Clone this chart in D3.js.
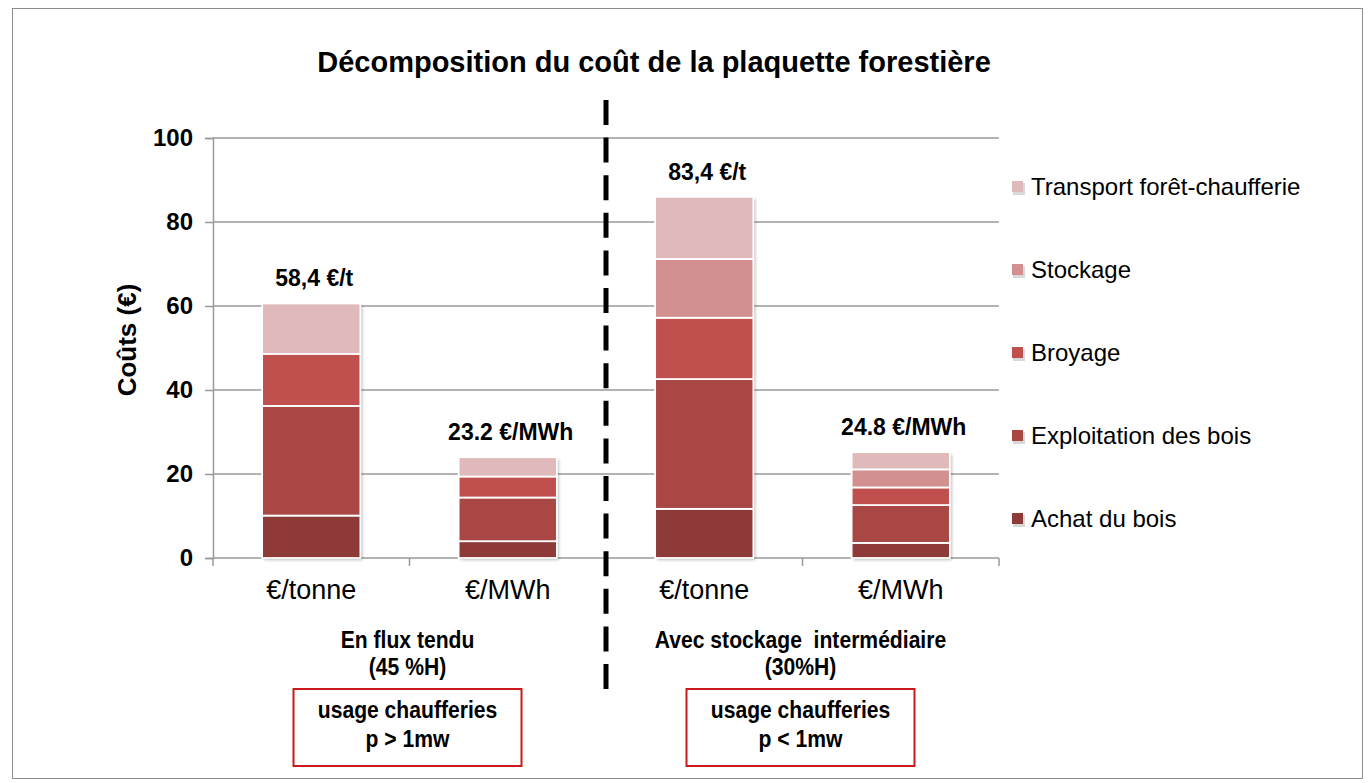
<!DOCTYPE html>
<html>
<head>
<meta charset="utf-8">
<script src="https://cdn.jsdelivr.net/npm/d3@7"></script>
<style>
  body { margin: 0; background: #fff; }
  text { font-family: "Liberation Sans", Arial, sans-serif; }
</style>
</head>
<body>
<div class="chart"></div>
<script>
// data
var categories = ["€/tonne", "€/MWh", "€/tonne2", "€/MWh2"];
var categoryLabels = ["€/tonne", "€/MWh", "€/tonne", "€/MWh"];
var seriesNames = ["Achat du bois", "Exploitation des bois", "Broyage", "Stockage", "Transport forêt-chaufferie"];
var achat = [10.1, 4.0, 11.7, 3.6];
var exploitation = [26.1, 10.4, 30.9, 9.0];
var broyage = [12.4, 5.0, 14.6, 4.2];
var stockage = [0, 0, 14.0, 4.3];
var transport = [12.0, 4.6, 14.8, 4.1];
var totalLabels = ["58,4 €/t", "23.2 €/MWh", "83,4 €/t", "24.8 €/MWh"];
var yTicks = [0, 20, 40, 60, 80, 100];
var groups = [
  { lines: ["En flux tendu", "(45 %H)"], box: ["usage chaufferies", "p > 1mw"] },
  { lines: ["Avec stockage  intermédiaire", "(30%H)"], box: ["usage chaufferies", "p < 1mw"] }
];

var colors = ["#8e3a39", "#a94745", "#c0504e", "#d29190", "#e0baba"];

var svgWidth = 1370, svgHeight = 783;
var margin = { top: 138, left: 213 };
var width = 786, height = 420;

var svg = d3.select(".chart").append("svg")
  .attr("width", svgWidth)
  .attr("height", svgHeight);

var defs = svg.append("defs");
var shadow = defs.append("filter").attr("id", "shadow")
  .attr("x", "-10%").attr("y", "-10%").attr("width", "130%").attr("height", "130%");
shadow.append("feDropShadow").attr("dx", 2).attr("dy", 2).attr("stdDeviation", 1.5)
  .attr("flood-color", "#000").attr("flood-opacity", 0.25);

// outer frame
svg.append("rect")
  .attr("x", 12.5).attr("y", 8.5)
  .attr("width", 1350).attr("height", 770)
  .attr("fill", "none").attr("stroke", "#8c8c8c").attr("stroke-width", 1);

// title
svg.append("text")
  .attr("x", 654).attr("y", 72)
  .attr("text-anchor", "middle")
  .attr("font-size", 29).attr("font-weight", "bold")
  .text("Décomposition du coût de la plaquette forestière");

var chart = svg.append("g")
  .attr("transform", "translate(" + margin.left + "," + margin.top + ")");

var x = d3.scaleBand().domain(categories).range([0, width])
  .paddingInner(0.5).paddingOuter(0.25);
var y = d3.scaleLinear().domain([0, 100]).range([height, 0]);

// gridlines
chart.selectAll(".grid").data(yTicks).enter().append("line")
  .attr("x1", 0).attr("x2", width)
  .attr("y1", function(d) { return y(d); })
  .attr("y2", function(d) { return y(d); })
  .attr("stroke", "#9a9a9a").attr("stroke-width", 1.5);

// y axis
var leftAxis = d3.axisLeft(y).tickValues(yTicks).tickSize(8).tickPadding(12);
var yAxisG = chart.append("g").call(leftAxis);
yAxisG.select(".domain").attr("stroke", "#9a9a9a").attr("stroke-width", 1.5);
yAxisG.selectAll(".tick line").attr("stroke", "#9a9a9a").attr("stroke-width", 1.5);
yAxisG.selectAll(".tick text")
  .attr("font-family", "Liberation Sans, Arial, sans-serif")
  .attr("font-size", 24).attr("font-weight", "bold").attr("fill", "#000");

// x axis ticks between categories
var step = x.step();
var boundaries = d3.range(0, 5).map(function(i) { return i * step; });
chart.selectAll(".xtick").data(boundaries).enter().append("line")
  .attr("x1", function(d) { return d; }).attr("x2", function(d) { return d; })
  .attr("y1", height).attr("y2", height + 8)
  .attr("stroke", "#9a9a9a").attr("stroke-width", 1.5);

chart.selectAll(".xlabel").data(categories).enter().append("text")
  .attr("x", function(d) { return x(d) + x.bandwidth() / 2; })
  .attr("y", height + 41)
  .attr("text-anchor", "middle")
  .attr("font-size", 27)
  .text(function(d, i) { return categoryLabels[i]; });

// y axis title
svg.append("text")
  .attr("transform", "translate(136,340) rotate(-90)")
  .attr("text-anchor", "middle")
  .attr("font-size", 26).attr("font-weight", "bold")
  .text("Coûts (€)");

// stacked bars
var table = categories.map(function(c, i) {
  return { cat: c, s0: achat[i], s1: exploitation[i], s2: broyage[i], s3: stockage[i], s4: transport[i] };
});
var stack = d3.stack().keys(["s0", "s1", "s2", "s3", "s4"]);
var layers = stack(table);

chart.selectAll(".shadowbar").data(table).enter().append("rect")
  .attr("x", function(d) { return x(d.cat); })
  .attr("width", x.bandwidth())
  .attr("y", function(d) { return y(d.s0 + d.s1 + d.s2 + d.s3 + d.s4); })
  .attr("height", function(d) { return y(0) - y(d.s0 + d.s1 + d.s2 + d.s3 + d.s4); })
  .attr("fill", "#fff")
  .attr("filter", "url(#shadow)");

chart.selectAll(".layer").data(layers).enter().append("g")
  .attr("fill", function(d, i) { return colors[i]; })
  .selectAll("rect").data(function(d) { return d; }).enter().append("rect")
  .filter(function(d) { return d[1] - d[0] > 0; })
  .attr("x", function(d) { return x(d.data.cat); })
  .attr("width", x.bandwidth())
  .attr("y", function(d) { return y(d[1]); })
  .attr("height", function(d) { return y(d[0]) - y(d[1]); })
  .attr("stroke", "#fff").attr("stroke-width", 1.8);

// total labels
chart.selectAll(".total").data(table).enter().append("text")
  .attr("x", function(d) { return x(d.cat) + x.bandwidth() / 2 + 3; })
  .attr("y", function(d) { return y(d.s0 + d.s1 + d.s2 + d.s3 + d.s4) - 17; })
  .attr("text-anchor", "middle")
  .attr("font-size", 23).attr("font-weight", "bold")
  .text(function(d, i) { return totalLabels[i]; });

// dashed separator
svg.append("line")
  .attr("x1", margin.left + 2 * step).attr("x2", margin.left + 2 * step)
  .attr("y1", 100).attr("y2", 690)
  .attr("stroke", "#000").attr("stroke-width", 5)
  .attr("stroke-dasharray", "25,12.6");

// condensed bold text (narrow face imitated by a horizontal squeeze)
function narrowText(cx, yPos, str) {
  svg.append("text")
    .attr("transform", "translate(" + cx + "," + yPos + ") scale(0.88,1)")
    .attr("text-anchor", "middle")
    .attr("font-size", 24).attr("font-weight", "bold")
    .style("white-space", "pre")
    .text(str);
}

// group labels and boxes
groups.forEach(function(g, i) {
  var cx = margin.left + step * (2 * i + 1) - 2;
  narrowText(cx, 648, g.lines[0]);
  narrowText(cx, 675, g.lines[1]);
  svg.append("rect")
    .attr("x", cx - 114).attr("y", 689)
    .attr("width", 228).attr("height", 77)
    .attr("fill", "#fff").attr("stroke", "#cc1a1a").attr("stroke-width", 2);
  narrowText(cx, 718, g.box[0]);
  narrowText(cx, 747, g.box[1]);
});

// legend (top entry is the last series)
var legendOrder = d3.range(seriesNames.length).reverse();
var legend = svg.selectAll(".legend").data(legendOrder).enter().append("g")
  .attr("transform", function(d, i) { return "translate(1012," + (187 + i * 83) + ")"; });
legend.append("rect")
  .attr("x", 1).attr("y", -4).attr("width", 12).attr("height", 12)
  .attr("fill", "#d8d8d8");
legend.append("rect")
  .attr("x", 0).attr("y", -6).attr("width", 11).attr("height", 11)
  .attr("fill", function(d) { return colors[d]; });
legend.append("text")
  .attr("x", 19).attr("y", 8)
  .attr("font-size", 24)
  .text(function(d) { return seriesNames[d]; });
</script>
</body>
</html>
